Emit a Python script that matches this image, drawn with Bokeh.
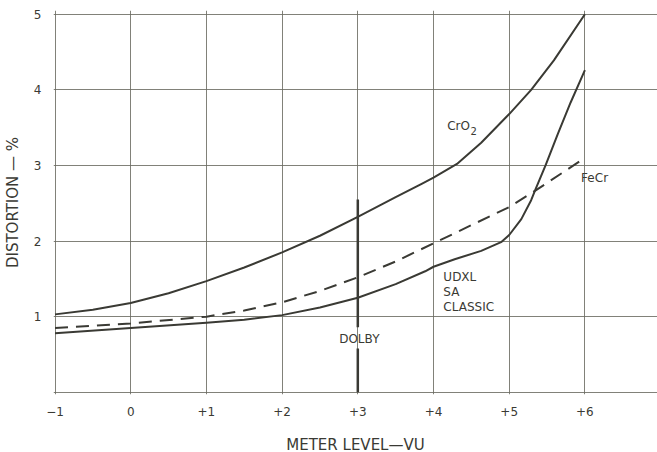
from bokeh.plotting import figure
from bokeh.models import FixedTicker, Range1d, Label
from bokeh.embed import file_html
from bokeh.resources import INLINE

# ---- data ----
meter_ticks = [-1, 0, 1, 2, 3, 4, 5, 6]
meter_labels = ["\u22121", "0", "+1", "+2", "+3", "+4", "+5", "+6"]
dist_ticks = [0, 1, 2, 3, 4, 5]
dist_labels = ["", "1", "2", "3", "4", "5"]

cro2_x = [-1, -0.5, 0, 0.5, 1, 1.5, 2, 2.5, 3, 3.5, 3.85, 4, 4.31, 4.63, 5, 5.29, 5.59, 6]
cro2_y = [1.03, 1.09, 1.18, 1.31, 1.47, 1.65, 1.85, 2.07, 2.32, 2.58, 2.76, 2.84, 3.02, 3.30, 3.68, 4.0, 4.39, 5.0]

fecr_x = [-1, 0, 1, 1.5, 2, 2.5, 3, 3.5, 4, 4.5, 5, 5.35, 6]
fecr_y = [0.85, 0.91, 1.0, 1.08, 1.19, 1.34, 1.52, 1.73, 1.97, 2.21, 2.45, 2.67, 3.10]

udxl_x = [-1, 0, 1, 1.5, 2, 2.5, 3, 3.5, 3.89, 4, 4.28, 4.63, 4.9, 5.0, 5.16, 5.29, 5.35, 5.48, 5.64, 5.81, 6]
udxl_y = [0.78, 0.85, 0.92, 0.96, 1.02, 1.12, 1.25, 1.43, 1.60, 1.66, 1.76, 1.87, 1.99, 2.08, 2.29, 2.54, 2.69, 3.0, 3.41, 3.83, 4.26]

dolby_x = 3
dolby_top = 2.55
dolby_gap = (0.58, 0.86)

INK = "#3a3a34"
GRID = "#6b6b62"
FONT = "DejaVu Sans"

p = figure(
    output_backend="svg", toolbar_location=None,
    frame_width=604, frame_height=384,
    min_border_left=51, min_border_right=0, min_border_top=10, min_border_bottom=49,
    x_range=Range1d(-1.02, 6.959), y_range=Range1d(-0.03, 5.05),
    background_fill_color="white", border_fill_color="white",
)
p.outline_line_color = None

# axes
p.xaxis.ticker = FixedTicker(ticks=meter_ticks)
p.xaxis.major_label_overrides = {t: l for t, l in zip(meter_ticks, meter_labels)}
p.yaxis.ticker = FixedTicker(ticks=dist_ticks)
p.yaxis.major_label_overrides = {t: l for t, l in zip(dist_ticks, dist_labels)}
for ax in (p.xaxis, p.yaxis):
    ax.axis_line_color = None
    ax.major_tick_line_color = None
    ax.minor_tick_line_color = None
    ax.major_label_text_font = FONT
    ax.major_label_text_font_size = "12px"
    ax.major_label_text_color = INK
    ax.axis_label_text_font = FONT
    ax.axis_label_text_font_size = "15px"
    ax.axis_label_text_font_style = "normal"
    ax.axis_label_text_color = INK
p.xaxis.axis_label = "METER LEVEL\u2014VU"
p.yaxis.axis_label = "DISTORTION \u2014 %"
p.xaxis.major_label_standoff = 6
p.yaxis.major_label_standoff = 6
p.xaxis.axis_label_standoff = 17
p.yaxis.axis_label_standoff = 9

# grid
p.xgrid.grid_line_color = GRID
p.ygrid.grid_line_color = GRID
p.xgrid.grid_line_width = 1
p.ygrid.grid_line_width = 1
p.xgrid.grid_line_alpha = 0.85
p.ygrid.grid_line_alpha = 0.85

# curves
p.line(cro2_x, cro2_y, line_color=INK, line_width=2, line_join="round")
p.line(fecr_x, fecr_y, line_color=INK, line_width=2, line_dash="13 8")
p.line(udxl_x, udxl_y, line_color=INK, line_width=2, line_join="round")

# Dolby marker
p.segment(x0=[dolby_x, dolby_x], y0=[0, dolby_gap[1]], x1=[dolby_x, dolby_x],
          y1=[dolby_gap[0], dolby_top], line_color=INK, line_width=2.5)

def lab(x, y, t, align="left", size="12px"):
    p.add_layout(Label(x=x, y=y, text=t, text_font=FONT, text_font_size=size,
                       text_color=INK, text_align=align, text_baseline="middle"))

lab(4.18, 3.52, "CrO")
lab(4.49, 3.46, "2", size="10px")
lab(5.95, 2.83, "FeCr")
lab(4.13, 1.53, "UDXL")
lab(4.13, 1.33, "SA")
lab(4.13, 1.13, "CLASSIC")
lab(3.02, 0.71, "DOLBY", align="center")

open("out.html", "w").write(file_html(p, INLINE))
